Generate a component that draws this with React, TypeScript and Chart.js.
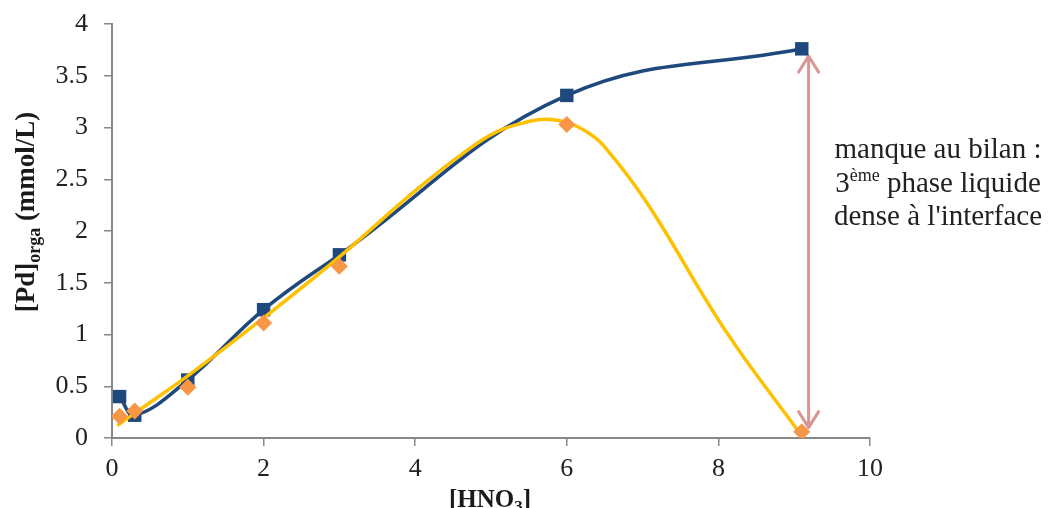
import React, { useEffect, useRef } from "react";
import { Chart, registerables } from "chart.js";

Chart.register(...registerables);

// Measured points
const hno3 = [0.1, 0.3, 1, 2, 3, 6, 9.1];
const pdBlue = [0.4, 0.22, 0.56, 1.24, 1.77, 3.31, 3.76];
const pdOrange = [0.21, 0.26, 0.49, 1.11, 1.66, 3.03, 0.06];

// Yellow trend curve
const trendX = [0.07, 0.3, 1, 2, 3, 3.97, 4.63, 5.08, 5.51, 5.73, 6, 6.26, 6.48, 7.05, 8.1, 9.05];
const trendY = [0.12, 0.24, 0.6, 1.16, 1.75, 2.37, 2.75, 2.96, 3.06, 3.08, 3.05, 2.96, 2.83, 2.28, 1.03, 0.07];

// Axis settings
const xTicks = [0, 2, 4, 6, 8, 10];
const yTicks = [0, 0.5, 1, 1.5, 2, 2.5, 3, 3.5, 4];

// Arrow (data coordinates)
const arrowX = 9.19;
const arrowTop = 3.69;
const arrowBottom = 0.1;

const noteLine1 = "manque au bilan :";
const noteLine2 = ["3", "ème", " phase liquide"];
const noteLine3 = "dense à l'interface";

const FONT = '"Liberation Serif", "Times New Roman", serif';

type Run = { text: string; size: number; dy: number; bold?: boolean };

function drawRuns(ctx: CanvasRenderingContext2D, runs: Run[], cx: number, baseline: number) {
  let total = 0;
  const widths = runs.map((r) => {
    ctx.font = `${r.bold ? "bold " : ""}${r.size}px ${FONT}`;
    const w = ctx.measureText(r.text).width;
    total += w;
    return w;
  });
  let x = cx - total / 2;
  ctx.textAlign = "left";
  ctx.textBaseline = "alphabetic";
  runs.forEach((r, i) => {
    ctx.font = `${r.bold ? "bold " : ""}${r.size}px ${FONT}`;
    ctx.fillText(r.text, x, baseline + r.dy);
    x += widths[i];
  });
}

const overlay = {
  id: "overlay",
  beforeDatasetsDraw(chart: any) {
    const ctx: CanvasRenderingContext2D = chart.ctx;
    const xs = chart.scales.x;
    const ys = chart.scales.y;
    const px = xs.getPixelForValue(arrowX);
    const top = ys.getPixelForValue(arrowTop);
    const bot = ys.getPixelForValue(arrowBottom);
    ctx.save();
    ctx.strokeStyle = "#D99694";
    ctx.lineWidth = 3;
    ctx.lineCap = "round";
    ctx.lineJoin = "round";
    ctx.beginPath();
    ctx.moveTo(px, top);
    ctx.lineTo(px, bot);
    ctx.moveTo(px - 10, top + 16);
    ctx.lineTo(px, top);
    ctx.lineTo(px + 10, top + 16);
    ctx.moveTo(px - 10, bot - 16);
    ctx.lineTo(px, bot);
    ctx.lineTo(px + 10, bot - 16);
    ctx.stroke();
    ctx.restore();
  },
  afterDraw(chart: any) {
    const ctx: CanvasRenderingContext2D = chart.ctx;
    ctx.save();
    ctx.fillStyle = "#1a1a1a";
    // Y title
    ctx.save();
    ctx.translate(34, 212);
    ctx.rotate(-Math.PI / 2);
    drawRuns(
      ctx,
      [
        { text: "[Pd]", size: 27, dy: 0, bold: true },
        { text: "orga", size: 18, dy: 6, bold: true },
        { text: " (mmol/L)", size: 27, dy: 0, bold: true },
      ],
      0,
      0
    );
    ctx.restore();
    // X title
    drawRuns(
      ctx,
      [
        { text: "[HNO", size: 25, dy: 0, bold: true },
        { text: "3", size: 17, dy: 5, bold: true },
        { text: "]", size: 25, dy: 0, bold: true },
      ],
      490,
      507
    );
    // Annotation
    ctx.fillStyle = "#222";
    const cx = 938;
    drawRuns(ctx, [{ text: noteLine1, size: 29, dy: 0 }], cx, 158);
    drawRuns(
      ctx,
      [
        { text: noteLine2[0], size: 29, dy: 0 },
        { text: noteLine2[1], size: 18, dy: -11 },
        { text: noteLine2[2], size: 29, dy: 0 },
      ],
      cx,
      192
    );
    drawRuns(ctx, [{ text: noteLine3, size: 29, dy: 0 }], cx, 225);
    ctx.restore();
  },
};

export default function App() {
  const ref = useRef<HTMLCanvasElement>(null);
  useEffect(() => {
    if (!ref.current) return;
    const axisColor = "#888888";
    const chart = new Chart(ref.current, {
      type: "scatter",
      data: {
        datasets: [
          {
            label: "blue",
            data: hno3.map((x, i) => ({ x, y: pdBlue[i] })),
            showLine: true,
            tension: 0.4,
            borderColor: "#1F497D",
            borderWidth: 3.5,
            pointStyle: "rect",
            pointRadius: 9.5,
            pointBackgroundColor: "#1F497D",
            pointBorderWidth: 0,
            order: 3,
          },
          {
            label: "trend",
            data: trendX.map((x, i) => ({ x, y: trendY[i] })),
            showLine: true,
            tension: 0.4,
            borderColor: "#FFC000",
            borderWidth: 3.5,
            pointRadius: 0,
            order: 2,
          },
          {
            label: "orange",
            data: hno3.map((x, i) => ({ x, y: pdOrange[i] })),
            showLine: false,
            pointStyle: "rectRot",
            pointRadius: 8.5,
            pointBackgroundColor: "#F79646",
            pointBorderWidth: 0,
            order: 1,
          },
        ],
      },
      options: {
        responsive: false,
        animation: false,
        devicePixelRatio: 1,
        layout: { padding: { left: 0, right: 180, top: 24, bottom: 0 } },
        plugins: { legend: { display: false }, tooltip: { enabled: false } },
        scales: {
          x: {
            type: "linear",
            min: 0,
            max: 10,
            afterFit: (s: any) => {
              s.height = 70;
              s.paddingLeft = 0;
              s.paddingRight = 0;
            },
            afterBuildTicks: (s: any) => {
              s.ticks = xTicks.map((v) => ({ value: v }));
            },
            grid: { drawOnChartArea: false, color: axisColor, lineWidth: 1.5, tickLength: 8 },
            border: { display: true, color: axisColor, width: 2 },
            ticks: {
              font: { family: FONT, size: 26 },
              color: "#222",
              padding: 8,
              maxRotation: 0,
              callback: (v: any) => String(v),
            },
          },
          y: {
            type: "linear",
            min: 0,
            max: 4,
            afterFit: (s: any) => {
              s.width = 112;
              s.paddingTop = 0;
              s.paddingBottom = 0;
            },
            afterBuildTicks: (s: any) => {
              s.ticks = yTicks.map((v) => ({ value: v }));
            },
            grid: { drawOnChartArea: false, color: axisColor, lineWidth: 1.5, tickLength: 8 },
            border: { display: true, color: axisColor, width: 2 },
            ticks: {
              font: { family: FONT, size: 26 },
              color: "#222",
              padding: 16,
              callback: (v: any) => String(v),
            },
          },
        },
      },
      plugins: [overlay],
    });
    return () => chart.destroy();
  }, []);
  return (
    <div style={{ position: "fixed", left: 0, top: 0, width: 1050, height: 508, background: "#fff" }}>
      <canvas ref={ref} width={1050} height={508} />
    </div>
  );
}
